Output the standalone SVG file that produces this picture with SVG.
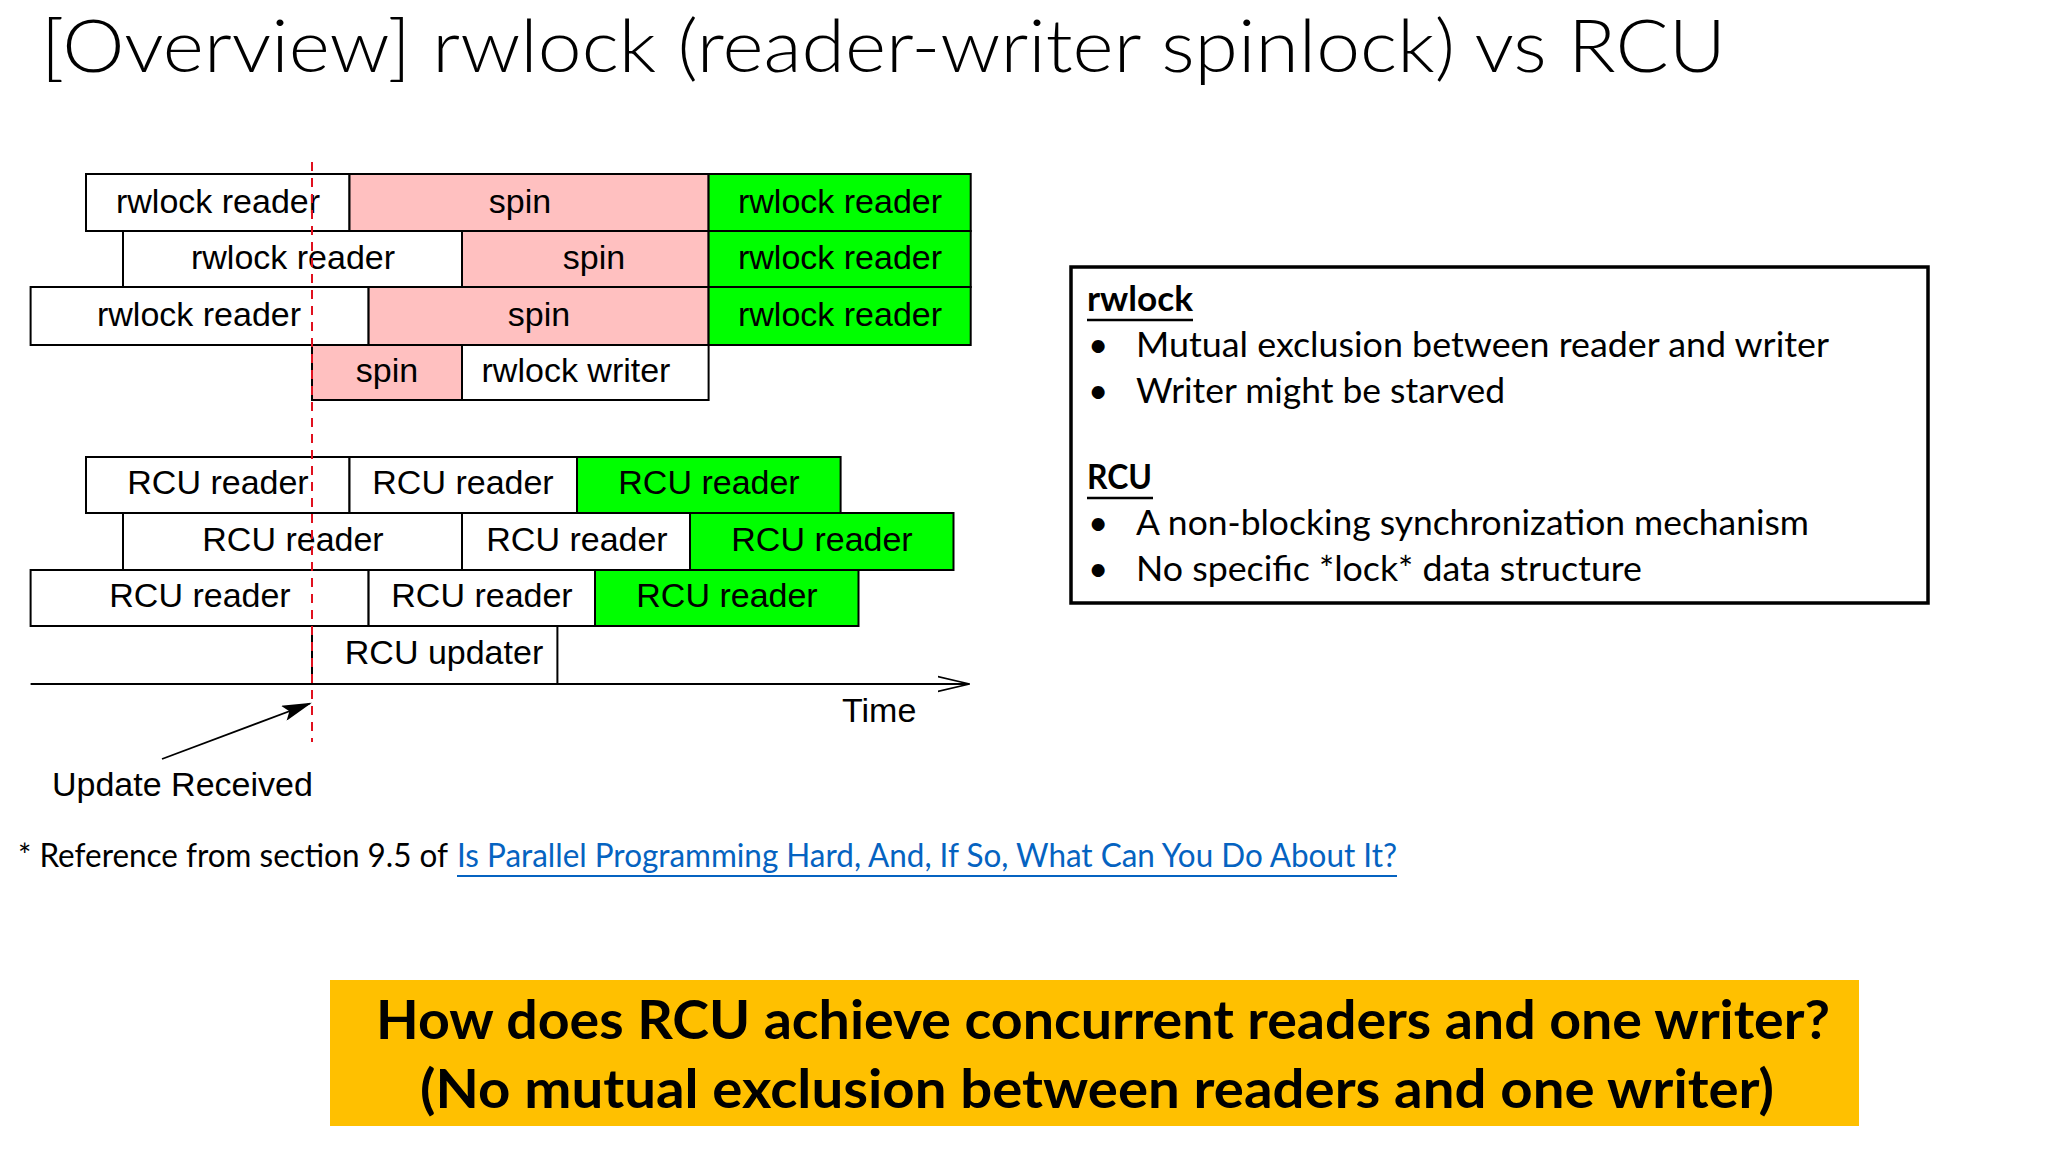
<svg xmlns="http://www.w3.org/2000/svg" width="2048" height="1152" viewBox="0 0 2048 1152">
<style>
.seg{stroke:#000;stroke-width:2}
.w{fill:#fff}
.p{fill:#ffc0c0}
.g{fill:#00ff00}
.t{font-family:"Liberation Sans",Arial,sans-serif;font-size:34px;fill:#000;text-anchor:middle}
.c{font-family:Lato,"Open Sans",sans-serif;fill:#000}
.body{font-size:35px}
.bold{font-weight:700}
</style>
<defs>
<marker id="fillhead" markerWidth="30" markerHeight="16" refX="28" refY="8" orient="auto" markerUnits="userSpaceOnUse">
<path d="M0,0 L30,8 L0,16 L6,8 Z" fill="#000"/>
</marker>
<marker id="openhead" markerWidth="34" markerHeight="18" refX="32" refY="9" orient="auto" markerUnits="userSpaceOnUse">
<path d="M0,1.5 L32,9 L0,16.5" fill="none" stroke="#000" stroke-width="1.6"/>
</marker>
</defs>
<rect width="2048" height="1152" fill="#fff"/>

<g id="title">
<text class="c" x="41" y="72" font-size="72" font-weight="300" textLength="1685" lengthAdjust="spacingAndGlyphs">[Overview] rwlock (reader-writer spinlock) vs RCU</text>
</g>

<g id="rwlock-row1">
<rect class="seg w" x="86" y="174" width="263.5" height="57"/>
<rect class="seg p" x="349.5" y="174" width="359.1" height="57"/>
<rect class="seg g" x="708.6" y="174" width="262.1" height="57"/>
<text class="t" x="218" y="213">rwlock reader</text>
<text class="t" x="520" y="213">spin</text>
<text class="t" x="840" y="213">rwlock reader</text>
</g>
<g id="rwlock-row2">
<rect class="seg w" x="123" y="231" width="339" height="56"/>
<rect class="seg p" x="462" y="231" width="246.6" height="56"/>
<rect class="seg g" x="708.6" y="231" width="262.1" height="56"/>
<text class="t" x="293" y="269">rwlock reader</text>
<text class="t" x="594" y="269">spin</text>
<text class="t" x="840" y="269">rwlock reader</text>
</g>
<g id="rwlock-row3">
<rect class="seg w" x="30.6" y="287" width="338" height="58"/>
<rect class="seg p" x="368.6" y="287" width="340" height="58"/>
<rect class="seg g" x="708.6" y="287" width="262.1" height="58"/>
<text class="t" x="199" y="326">rwlock reader</text>
<text class="t" x="539" y="326">spin</text>
<text class="t" x="840" y="326">rwlock reader</text>
</g>
<g id="rwlock-writer">
<rect class="seg p" x="312" y="345" width="150" height="55"/>
<rect class="seg w" x="462" y="345" width="246.6" height="55"/>
<text class="t" x="387" y="382">spin</text>
<text class="t" x="576" y="382">rwlock writer</text>
</g>

<g id="rcu-row1">
<rect class="seg w" x="86" y="457" width="263.5" height="56"/>
<rect class="seg w" x="349.5" y="457" width="227.5" height="56"/>
<rect class="seg g" x="577" y="457" width="263.6" height="56"/>
<text class="t" x="218" y="494">RCU reader</text>
<text class="t" x="463" y="494">RCU reader</text>
<text class="t" x="709" y="494">RCU reader</text>
</g>
<g id="rcu-row2">
<rect class="seg w" x="123" y="513" width="339" height="57"/>
<rect class="seg w" x="462" y="513" width="228" height="57"/>
<rect class="seg g" x="690" y="513" width="263.5" height="57"/>
<text class="t" x="293" y="551">RCU reader</text>
<text class="t" x="577" y="551">RCU reader</text>
<text class="t" x="822" y="551">RCU reader</text>
</g>
<g id="rcu-row3">
<rect class="seg w" x="30.6" y="570" width="338" height="56"/>
<rect class="seg w" x="368.6" y="570" width="226.4" height="56"/>
<rect class="seg g" x="595" y="570" width="263.5" height="56"/>
<text class="t" x="200" y="607">RCU reader</text>
<text class="t" x="482" y="607">RCU reader</text>
<text class="t" x="727" y="607">RCU reader</text>
</g>
<g id="rcu-updater">
<rect class="seg w" x="312" y="626" width="245.4" height="58"/>
<text class="t" x="444" y="664">RCU updater</text>
</g>

<g id="connectors">
<line x1="30.6" y1="684" x2="969.5" y2="684" stroke="#000" stroke-width="2" marker-end="url(#openhead)"/>
<line x1="162" y1="759" x2="310" y2="703.5" stroke="#000" stroke-width="1.8" marker-end="url(#fillhead)"/>
<line x1="312" y1="162" x2="312" y2="742" stroke="#e0101e" stroke-width="2" stroke-dasharray="9 7"/>
</g>

<g id="labels">
<text class="t" x="842" y="722" style="text-anchor:start">Time</text>
<text class="t" x="52" y="796" style="text-anchor:start">Update Received</text>
</g>

<g id="summary-box">
<rect x="1071" y="267" width="857" height="336" fill="#fff" stroke="#000" stroke-width="3.5"/>
<text class="c body bold" x="1087" y="311" textLength="106" lengthAdjust="spacingAndGlyphs">rwlock</text>
<line x1="1087" y1="320" x2="1193" y2="320" stroke="#000" stroke-width="2.5"/>
<text class="c body" x="1088" y="357">•</text>
<text class="c body" x="1136" y="357" textLength="693" lengthAdjust="spacingAndGlyphs">Mutual exclusion between reader and writer</text>
<text class="c body" x="1088" y="403">•</text>
<text class="c body" x="1136" y="403" textLength="369" lengthAdjust="spacingAndGlyphs">Writer might be starved</text>
<text class="c body bold" x="1087" y="489" textLength="65" lengthAdjust="spacingAndGlyphs">RCU</text>
<line x1="1087" y1="498" x2="1153" y2="498" stroke="#000" stroke-width="2.5"/>
<text class="c body" x="1088" y="535">•</text>
<text class="c body" x="1136" y="535" textLength="673" lengthAdjust="spacingAndGlyphs">A non-blocking synchronization mechanism</text>
<text class="c body" x="1088" y="581">•</text>
<text class="c body" x="1136" y="581" textLength="506" lengthAdjust="spacingAndGlyphs">No specific *lock* data structure</text>
</g>

<g id="footer">
<text class="c" x="18" y="867" font-size="32" textLength="430" lengthAdjust="spacingAndGlyphs">* Reference from section 9.5 of</text>
<text class="c" x="457" y="867" font-size="32" style="fill:#0563c1" textLength="940" lengthAdjust="spacingAndGlyphs">Is Parallel Programming Hard, And, If So, What Can You Do About It?</text>
<line x1="457" y1="876" x2="1397" y2="876" stroke="#0563c1" stroke-width="2"/>
</g>

<g id="banner">
<rect x="330" y="980" width="1529" height="146" fill="#ffc000"/>
<text class="c bold" x="376" y="1039" font-size="54" textLength="1454" lengthAdjust="spacingAndGlyphs">How does RCU achieve concurrent readers and one writer?</text>
<text class="c bold" x="420" y="1108" font-size="54" textLength="1354" lengthAdjust="spacingAndGlyphs">(No mutual exclusion between readers and one writer)</text>
</g>
</svg>
